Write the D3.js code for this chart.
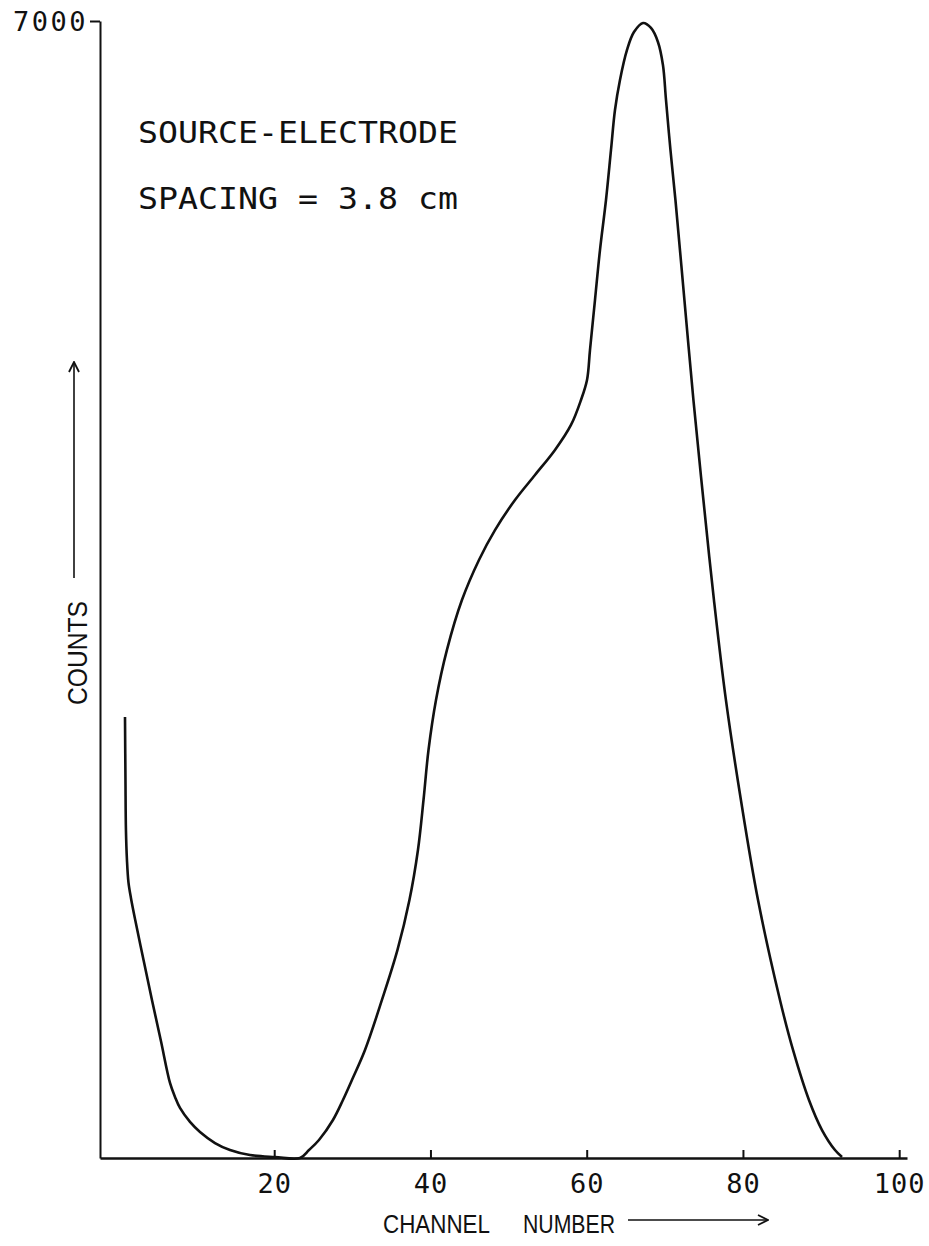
<!DOCTYPE html>
<html>
<head>
<meta charset="utf-8">
<script src="https://cdn.jsdelivr.net/npm/d3@7"></script>
<style>
  html, body { margin: 0; padding: 0; background: #fff; }
  svg { display: block; }
  .axis path, .axis line { stroke: #111; }
  .axis text { fill: #111; font-family: "DejaVu Sans Mono", monospace; }
</style>
</head>
<body>
<svg id="chart" width="929" height="1246"></svg>
<script>
// Pulse-height spectrum: counts per channel
const channels = [0.9, 0.96, 1.02, 1.15, 1.34, 1.66, 2.21, 3.3, 4.35, 5.5, 6.66, 7.3, 7.94, 9.22,
  10.5, 12.42, 14.34, 16.9, 20.1, 23.3,
  24.45, 25.73, 27.52, 28.8, 29.95, 31.62, 33.79, 35.78, 37.31, 38.4, 39.11, 39.75, 40.71, 42.11,
  44.03, 46.21, 48.26, 50.82, 53.38, 55.94, 57.99, 59.27, 60.04, 60.42, 61.06, 61.7, 62.47, 63.11,
  63.62, 64.26, 65.16, 66.05, 67.21, 68.23, 69.12, 69.76, 70.15, 70.72, 71.36, 72.51, 73.66, 74.94,
  76.29, 77.82, 79.74, 81.93, 84.74, 86.41, 88.45, 90.12, 91.78, 92.68];
const counts = [2715, 2327, 2020, 1835, 1699, 1601, 1465, 1213, 973, 720, 462, 376, 308, 222,
  160, 92, 49, 18, 6, 0,
  49, 111, 234, 357, 480, 665, 973, 1281, 1588, 1896, 2204, 2512, 2820, 3128,
  3435, 3682, 3866, 4051, 4205, 4359, 4513, 4667, 4790, 4974, 5282, 5590, 5898, 6206,
  6452, 6637, 6822, 6932, 6988, 6957, 6871, 6729, 6514, 6206, 5898, 5282, 4667, 4051,
  3435, 2820, 2204, 1588, 973, 665, 357, 172, 49, 6];

const xTicks = [20, 40, 60, 80, 100];
const yTicks = [7000];
const xTitleWords = ["CHANNEL", "NUMBER"];
const yTitle = "COUNTS";
const noteLines = ["SOURCE-ELECTRODE", "SPACING = 3.8 cm"];

const svg = d3.select("#chart");

const x = d3.scaleLinear().domain([-2.3, 101]).range([100, 907]);
const y = d3.scaleLinear().domain([0, 7000]).range([1158, 21]);

// open chevron arrow head
svg.append("defs").append("marker")
  .attr("id", "chev")
  .attr("viewBox", "0 0 12 12")
  .attr("refX", 11).attr("refY", 6)
  .attr("markerWidth", 12).attr("markerHeight", 12)
  .attr("markerUnits", "userSpaceOnUse")
  .attr("orient", "auto")
  .append("path")
  .attr("d", "M1,1 L11,6 L1,11")
  .attr("fill", "none").attr("stroke", "#111").attr("stroke-width", 1.8);

// x axis
const gx = svg.append("g").attr("class", "axis")
  .attr("transform", `translate(0,${y(0)})`)
  .call(d3.axisBottom(x).tickValues(xTicks).tickSizeInner(-8).tickSizeOuter(0).tickFormat(d3.format("d")));
gx.select(".domain").attr("stroke-width", 2.4);
gx.selectAll(".tick line").attr("stroke-width", 2);
gx.selectAll(".tick text")
  .attr("y", 35).attr("dy", 0)
  .attr("font-size", 27)
  .attr("letter-spacing", 1);

// y axis
const gy = svg.append("g").attr("class", "axis")
  .attr("transform", `translate(${x(-2.3)},0)`)
  .call(d3.axisLeft(y).tickValues(yTicks).tickSizeInner(10).tickSizeOuter(0).tickPadding(2).tickFormat(d3.format("d")));
gy.select(".domain").attr("stroke-width", 2);
gy.selectAll(".tick line").attr("stroke-width", 2);
gy.selectAll(".tick text")
  .attr("dy", "0.36em")
  .attr("font-size", 27)
  .attr("letter-spacing", 2.5);

// spectrum curve
const line = d3.line()
  .x((d, i) => x(channels[i]))
  .y((d, i) => y(counts[i]))
  .curve(d3.curveCatmullRom.alpha(0.5));

svg.append("path")
  .datum(counts)
  .attr("d", line)
  .attr("fill", "none")
  .attr("stroke", "#111")
  .attr("stroke-width", 2.6)
  .attr("stroke-linejoin", "round");

// annotation
noteLines.forEach((t, i) => {
  svg.append("text")
    .attr("x", 138).attr("y", 143 + i * 66)
    .attr("font-family", "DejaVu Sans Mono, monospace")
    .attr("font-size", 31)
    .attr("textLength", 320)
    .attr("lengthAdjust", "spacingAndGlyphs")
    .attr("fill", "#111")
    .text(t);
});

// x axis title with arrow
svg.append("text")
  .attr("x", 383).attr("y", 1233)
  .attr("font-family", "Liberation Sans, Arial, sans-serif")
  .attr("font-size", 25)
  .attr("textLength", 107)
  .attr("lengthAdjust", "spacingAndGlyphs")
  .attr("fill", "#111")
  .text(xTitleWords[0]);
svg.append("text")
  .attr("x", 523).attr("y", 1233)
  .attr("font-family", "Liberation Sans, Arial, sans-serif")
  .attr("font-size", 25)
  .attr("textLength", 92)
  .attr("lengthAdjust", "spacingAndGlyphs")
  .attr("fill", "#111")
  .text(xTitleWords[1]);
svg.append("line")
  .attr("x1", 628).attr("y1", 1220).attr("x2", 768).attr("y2", 1220)
  .attr("stroke", "#111").attr("stroke-width", 1.6)
  .attr("marker-end", "url(#chev)");

// y axis title with arrow
svg.append("text")
  .attr("transform", "translate(87,705) rotate(-90)")
  .attr("font-family", "Liberation Sans, Arial, sans-serif")
  .attr("font-size", 28)
  .attr("textLength", 104)
  .attr("lengthAdjust", "spacingAndGlyphs")
  .attr("fill", "#111")
  .text(yTitle);
svg.append("line")
  .attr("x1", 74).attr("y1", 578).attr("x2", 74).attr("y2", 362)
  .attr("stroke", "#111").attr("stroke-width", 1.6)
  .attr("marker-end", "url(#chev)");
</script>
</body>
</html>
